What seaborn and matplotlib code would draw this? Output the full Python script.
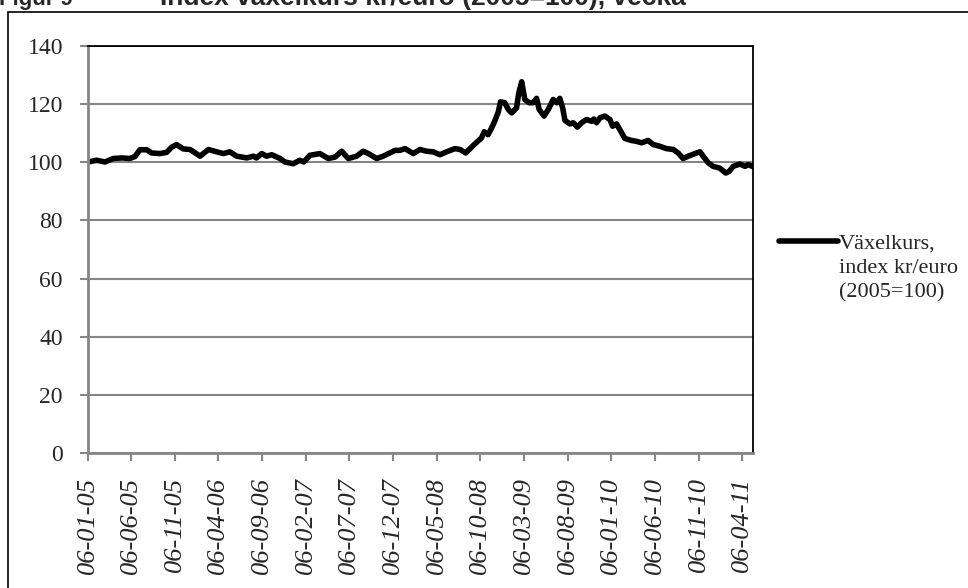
import matplotlib
matplotlib.use("Agg")
import matplotlib.pyplot as plt
import matplotlib.dates as mdates
from matplotlib.patches import Rectangle
import pandas as pd
import seaborn as sns

# Values (weekly index, 2005=100)
dates = [
    "2005-01-06", "2005-02-05", "2005-03-06", "2005-04-04", "2005-05-04", "2005-06-01",
    "2005-06-19", "2005-07-06", "2005-07-30", "2005-08-16", "2005-09-14", "2005-10-07",
    "2005-10-25", "2005-11-11", "2005-12-04", "2005-12-28", "2006-02-01", "2006-03-02",
    "2006-03-31", "2006-04-23", "2006-05-16", "2006-06-09", "2006-07-14", "2006-08-06",
    "2006-08-17", "2006-09-04", "2006-09-21", "2006-10-09", "2006-11-07", "2006-11-24",
    "2006-12-23", "2007-01-15", "2007-01-29", "2007-02-19", "2007-03-26", "2007-04-24",
    "2007-05-18", "2007-06-10", "2007-07-03", "2007-08-01", "2007-08-24", "2007-09-11",
    "2007-10-10", "2007-11-02", "2007-12-13", "2007-12-30", "2008-01-17", "2008-02-15",
    "2008-03-09", "2008-04-01", "2008-04-24", "2008-05-18", "2008-06-10", "2008-07-09",
    "2008-07-27", "2008-08-16", "2008-09-05", "2008-09-23", "2008-10-10", "2008-10-19",
    "2008-11-02", "2008-11-20", "2008-12-07", "2008-12-15", "2008-12-30", "2009-01-11",
    "2009-01-23", "2009-02-09", "2009-02-17", "2009-02-27", "2009-03-10", "2009-03-25",
    "2009-04-08", "2009-04-20", "2009-04-29", "2009-05-16", "2009-05-31", "2009-06-17",
    "2009-06-29", "2009-07-10", "2009-07-20", "2009-07-28", "2009-08-14", "2009-08-26",
    "2009-09-09", "2009-09-24", "2009-10-11", "2009-10-29", "2009-11-06", "2009-11-15",
    "2009-11-27", "2009-12-14", "2010-01-01", "2010-01-10", "2010-01-24", "2010-02-11",
    "2010-02-22", "2010-03-17", "2010-04-04", "2010-04-21", "2010-05-14", "2010-06-01",
    "2010-06-24", "2010-07-17", "2010-08-10", "2010-08-27", "2010-09-13", "2010-10-01",
    "2010-10-30", "2010-11-11", "2010-11-22", "2010-12-10", "2010-12-27", "2011-01-19",
    "2011-02-09", "2011-02-21", "2011-03-07", "2011-03-30", "2011-04-17", "2011-04-28",
    "2011-05-15",
]
values = [
    100.1, 100.7, 100.1, 101.3, 101.5, 101.3,
    102.0, 104.3, 104.3, 103.2, 103.0, 103.4,
    105.2, 106.1, 104.6, 104.4, 102.1, 104.4,
    103.6, 103.0, 103.6, 102.1, 101.5, 102.1,
    101.5, 103.0, 102.1, 102.6, 101.3, 100.1,
    99.5, 100.7, 100.1, 102.4, 103.0, 101.3,
    101.8, 103.8, 101.3, 102.1, 103.8, 103.0,
    101.3, 102.1, 104.1, 104.1, 104.7, 103.0,
    104.4, 103.8, 103.6, 102.6, 103.6, 104.7,
    104.4, 103.2, 105.2, 106.9, 108.4, 110.5,
    109.5, 113.0, 117.2, 120.8, 120.5, 118.2,
    117.0, 118.7, 123.9, 127.7, 121.6, 120.5,
    120.5, 122.0, 118.2, 115.9, 118.2, 121.6,
    120.5, 122.0, 118.7, 114.4, 113.2, 113.6,
    112.1, 113.6, 114.7, 114.1, 114.9, 113.6,
    115.3, 115.9, 114.7, 112.4, 113.2, 110.1,
    108.2, 107.5, 107.2, 106.7, 107.5, 106.1,
    105.5, 104.7, 104.4, 103.2, 101.3, 102.1,
    103.2, 103.6, 102.1, 99.8, 98.6, 98.0,
    96.3, 96.9, 98.6, 99.4, 98.6, 99.2,
    98.5,
]
tick_dates = [
    "2005-01-06", "2005-06-06", "2005-11-06", "2006-04-06", "2006-09-06", "2007-02-06",
    "2007-07-06", "2007-12-06", "2008-05-06", "2008-10-06", "2009-03-06", "2009-08-06",
    "2010-01-06", "2010-06-06", "2010-11-06", "2011-04-06",
]
y_ticks = [0, 20, 40, 60, 80, 100, 120, 140]
legend_lines = ["Växelkurs,", "index kr/euro", "(2005=100)"]
title_num = "Figur 9"
title_text = "Index växelkurs kr/euro (2005=100), vecka"

df = pd.DataFrame({"datum": pd.to_datetime(dates), "index": values})

sns.set_style("white")
plt.rcParams["font.family"] = ["Liberation Serif", "DejaVu Serif"]

fig = plt.figure(figsize=(9.68, 5.88), dpi=100)
ax = fig.add_axes([88 / 968, 1 - 453 / 588, (753 - 88) / 968, (453 - 46) / 588])

sns.lineplot(data=df, x="datum", y="index", ax=ax, color="black",
             linewidth=4.0, label=legend_lines[0])
for ln in ax.lines:
    ln.set_solid_joinstyle("round")
    ln.set_solid_capstyle("round")

grey = "#868686"
ax.set_ylim(0, 140)
ax.set_yticks(y_ticks)
ax.set_xlim(pd.Timestamp("2005-01-06"), pd.Timestamp("2011-05-15"))
ax.set_xticks(pd.to_datetime(tick_dates))
ax.xaxis.set_major_formatter(mdates.DateFormatter("%d-%m-%y"))
ax.set_xlabel("")
ax.set_ylabel("")

ax.set_axisbelow(True)
ax.yaxis.grid(True, color=grey, linewidth=1.5)
ax.xaxis.grid(False)

for side in ["top", "right"]:
    ax.spines[side].set_color("black")
    ax.spines[side].set_linewidth(1.3)
for side in ["left", "bottom"]:
    ax.spines[side].set_color(grey)
    ax.spines[side].set_linewidth(2)

ax.tick_params(axis="y", direction="out", length=6, width=1.5, color=grey,
               labelsize=17, pad=12, left=True)
ax.tick_params(axis="x", direction="out", length=6, width=1.5, color=grey,
               labelsize=19, pad=11, bottom=True)
for lab in ax.get_xticklabels():
    lab.set_rotation(90)
    lab.set_fontstyle("italic")

# Legend: handle beside the first line, the rest of the label below it
handles, labels = ax.get_legend_handles_labels()
ax.legend(handles, labels, loc="center left", bbox_to_anchor=(779 / 968, 1 - 243 / 588),
          bbox_transform=fig.transFigure, frameon=False, fontsize=16,
          handlelength=2.65, handletextpad=0.05, borderpad=0, borderaxespad=0)
for i, line in enumerate(legend_lines[1:]):
    fig.text(839 / 968, 1 - (268 + 25 * i) / 588, line, ha="left", va="center",
             fontsize=16)

# Title (cut off by the top edge, like in the reference)
fig.text(-1 / 968, 1 - 5 / 588, title_num, ha="left", va="baseline",
         fontfamily="Liberation Sans", fontweight="bold", fontsize=16)
fig.text(160 / 968, 1 - 5 / 588, title_text, ha="left", va="baseline",
         fontfamily="Liberation Sans", fontweight="bold", fontsize=19)

# Chart-area border
fig.add_artist(Rectangle((8 / 968, -0.05), 1.0, 1 - 12 / 588 + 0.05,
                         transform=fig.transFigure, fill=False,
                         edgecolor="black", linewidth=1.2))

fig.savefig("out.png", dpi=100)
